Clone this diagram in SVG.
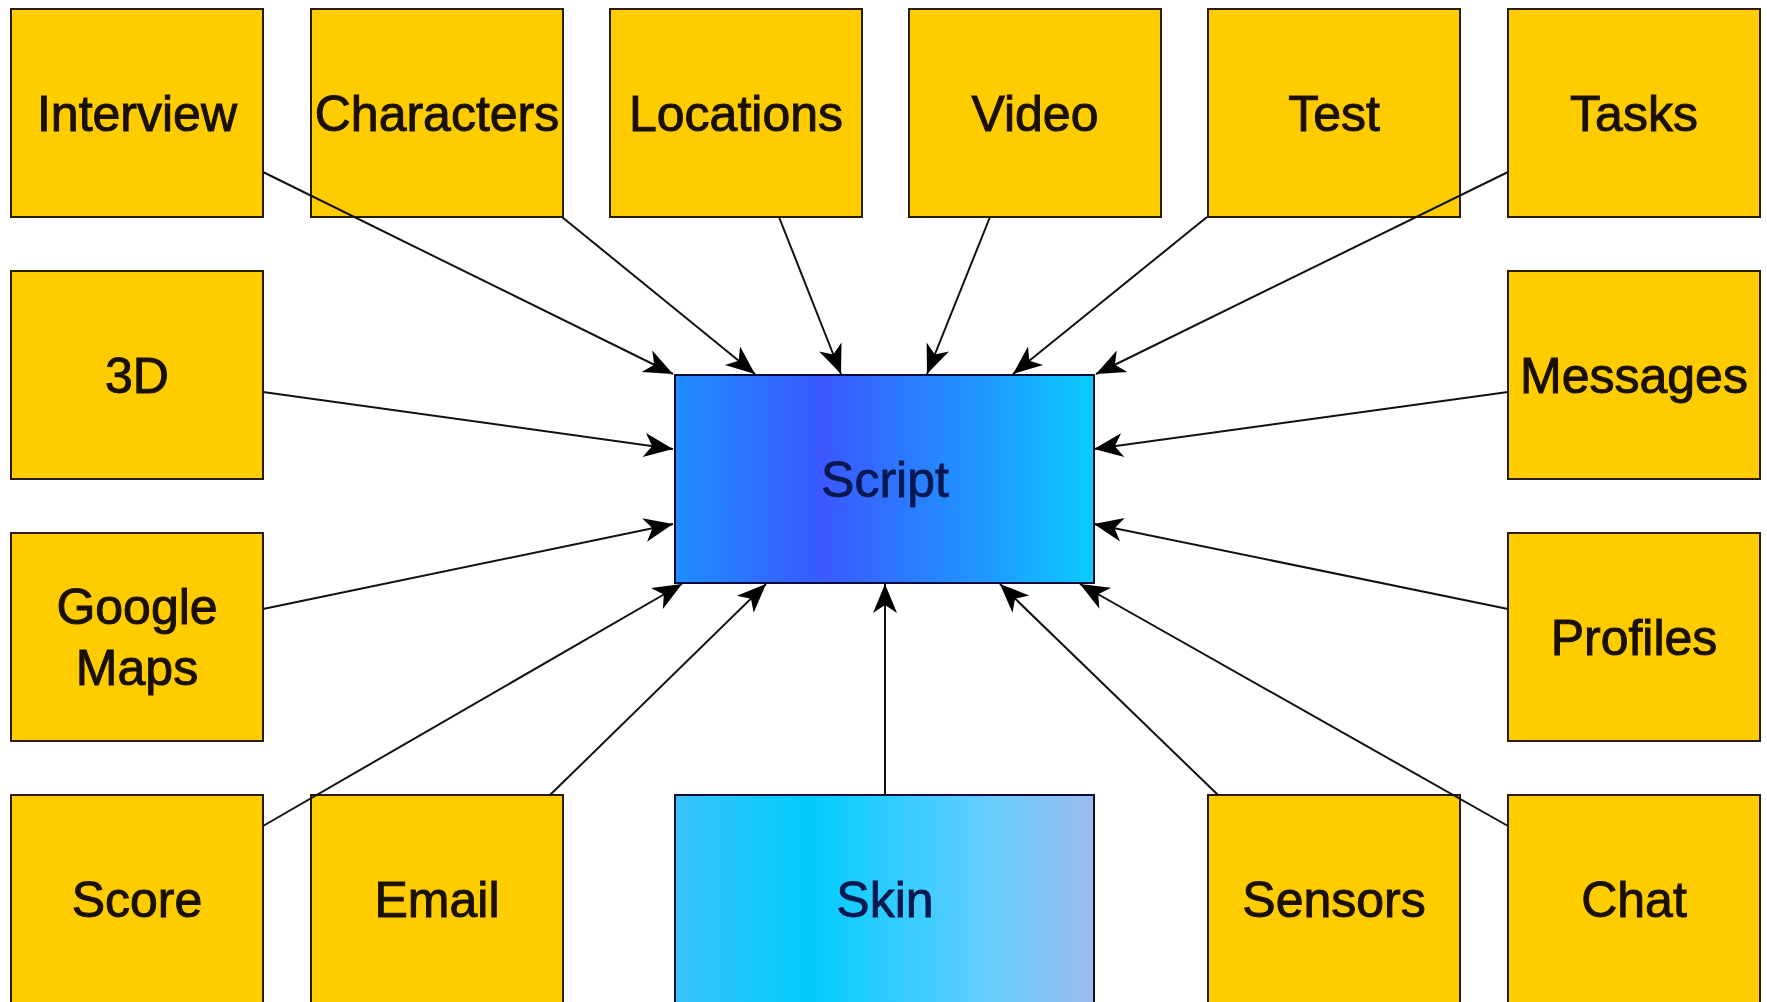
<svg xmlns="http://www.w3.org/2000/svg" width="1767" height="1002" viewBox="0 0 1767 1002">
  <style>
    .box { fill: #FFCC00; stroke: #2a1c00; stroke-width: 2; }
    .lbl { font-family: "Liberation Sans", Arial, sans-serif; font-size: 50px; fill: #1a1000; stroke: #1a1000; stroke-width: 1; text-anchor: middle; }
    .blbl { font-family: "Liberation Sans", Arial, sans-serif; font-size: 50px; fill: #0a1850; stroke: #0a1850; stroke-width: 0.8; text-anchor: middle; }
    .edge { stroke: #111; stroke-width: 2; fill: none; marker-end: url(#arr); }
  </style>
  <defs>
    <marker id="arr" markerUnits="userSpaceOnUse" markerWidth="34" markerHeight="30" viewBox="-32 -15 34 30" refX="0" refY="0" orient="auto">
      <path d="M0,0 L-29,-12 L-21,0 L-29,12 Z" fill="#000"/>
    </marker>
    <linearGradient id="gScript" x1="0" y1="0" x2="1" y2="0">
      <stop offset="0" stop-color="#1E8EFF"/>
      <stop offset="0.35" stop-color="#3A58FF"/>
      <stop offset="0.75" stop-color="#1E9AFF"/>
      <stop offset="1" stop-color="#0CCCFF"/>
    </linearGradient>
    <linearGradient id="gSkin" x1="0" y1="0" x2="1" y2="0">
      <stop offset="0" stop-color="#3AC2F8"/>
      <stop offset="0.32" stop-color="#00CCFF"/>
      <stop offset="0.75" stop-color="#66CCFF"/>
      <stop offset="1" stop-color="#9CBCEC"/>
    </linearGradient>
  </defs>
  <rect width="1767" height="1002" fill="#fff"/>

  <g id="n-interview"><rect class="box" x="11" y="9" width="252" height="208"/><text class="lbl" x="137" y="131">Interview</text></g>
  <g id="n-characters"><rect class="box" x="311" y="9" width="252" height="208"/><text class="lbl" x="437" y="131">Characters</text></g>
  <g id="n-locations"><rect class="box" x="610" y="9" width="252" height="208"/><text class="lbl" x="736" y="131">Locations</text></g>
  <g id="n-video"><rect class="box" x="909" y="9" width="252" height="208"/><text class="lbl" x="1035" y="131">Video</text></g>
  <g id="n-test"><rect class="box" x="1208" y="9" width="252" height="208"/><text class="lbl" x="1334" y="131">Test</text></g>
  <g id="n-tasks"><rect class="box" x="1508" y="9" width="252" height="208"/><text class="lbl" x="1634" y="131">Tasks</text></g>

  <g id="n-3d"><rect class="box" x="11" y="271" width="252" height="208"/><text class="lbl" x="137" y="393">3D</text></g>
  <g id="n-messages"><rect class="box" x="1508" y="271" width="252" height="208"/><text class="lbl" x="1634" y="393">Messages</text></g>

  <g id="n-googlemaps"><rect class="box" x="11" y="533" width="252" height="208"/><text class="lbl" x="137" y="624">Google</text><text class="lbl" x="137" y="685">Maps</text></g>
  <g id="n-profiles"><rect class="box" x="1508" y="533" width="252" height="208"/><text class="lbl" x="1634" y="655">Profiles</text></g>

  <g id="n-score"><rect class="box" x="11" y="795" width="252" height="208"/><text class="lbl" x="137" y="917">Score</text></g>
  <g id="n-email"><rect class="box" x="311" y="795" width="252" height="208"/><text class="lbl" x="437" y="917">Email</text></g>
  <g id="n-sensors"><rect class="box" x="1208" y="795" width="252" height="208"/><text class="lbl" x="1334" y="917">Sensors</text></g>
  <g id="n-chat"><rect class="box" x="1508" y="795" width="252" height="208"/><text class="lbl" x="1634" y="917">Chat</text></g>

  <g id="n-script"><rect x="675" y="375" width="419" height="208" fill="url(#gScript)" stroke="#0a0a3a" stroke-width="2"/><text class="blbl" x="885" y="497">Script</text></g>
  <g id="n-skin"><rect x="675" y="795" width="419" height="208" fill="url(#gSkin)" stroke="#0a0a3a" stroke-width="2"/><text class="blbl" x="885" y="917">Skin</text></g>

  <g id="connectors">
    <path class="edge" d="M263,172 L673,374"/>
    <path class="edge" d="M562,217 L755,374"/>
    <path class="edge" d="M779,217 L841,374"/>
    <path class="edge" d="M990,217 L927,374"/>
    <path class="edge" d="M1207,217 L1013,374"/>
    <path class="edge" d="M1508,172 L1096,374"/>
    <path class="edge" d="M263,392 L673,449"/>
    <path class="edge" d="M1508,392 L1094,449"/>
    <path class="edge" d="M263,609 L673,524"/>
    <path class="edge" d="M1508,609 L1094,524"/>
    <path class="edge" d="M263,826 L682,584"/>
    <path class="edge" d="M550,795 L766,584"/>
    <path class="edge" d="M885,795 L885,584"/>
    <path class="edge" d="M1218,795 L1000,584"/>
    <path class="edge" d="M1508,826 L1080,584"/>
  </g>
</svg>
